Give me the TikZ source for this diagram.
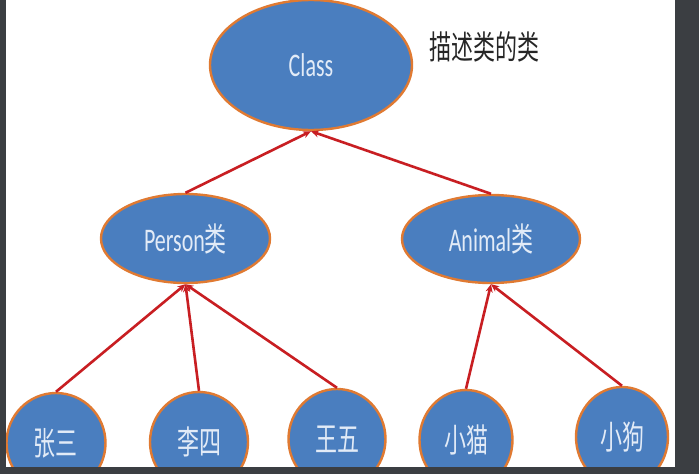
\documentclass[tikz,border=0pt]{standalone}
\usepackage{graphicx}
\usepackage{fontspec}
\setmainfont{Carlito}
\newfontfamily\cjk{Noto Sans CJK SC}
\usetikzlibrary{shapes.geometric,arrows.meta}
\definecolor{darkbg}{HTML}{3B3E42}
\definecolor{nodefill}{HTML}{4A7EBF}
\definecolor{nodeedge}{HTML}{E07A32}
\definecolor{arrowred}{HTML}{C81E22}
\definecolor{nodetext}{HTML}{E2EBF7}
\newcommand\tallt[1]{\scalebox{1}[1.5]{#1}}
\tikzset{
  x=1pt, y=-1pt,
  blob/.style={ellipse, draw=nodeedge, line width=2.4pt, fill=nodefill, inner sep=0pt,
    text=nodetext, font=\fontsize{22}{22}\selectfont},
  link/.style={draw=arrowred, line width=2.6pt, -{Stealth[length=8pt,width=7pt]}},
}
\begin{document}
\begin{tikzpicture}
\fill[darkbg] (0,0) rectangle (699,474);
\fill[white] (6,0) rectangle (675,467);
\useasboundingbox (0,0) rectangle (699,474);

\node[blob, minimum width=202pt, minimum height=130pt] (cls) at (311,65) {\tallt{Class}};
\node[font=\fontsize{22}{22}\selectfont\cjk, text=black!85] (desc) at (484,47) {\tallt{描述类的类}};

\node[blob, minimum width=169pt, minimum height=89pt] (person) at (185.5,238.5) {\tallt{Person{\cjk 类}}};
\node[blob, minimum width=178pt, minimum height=88pt] (animal) at (491,239) {\tallt{Animal{\cjk 类}}};

\node[blob, minimum width=99pt, minimum height=100pt, font=\fontsize{22}{22}\selectfont\cjk] (zs) at (56,443) {\tallt{张三}};
\node[blob, minimum width=98pt, minimum height=100pt, font=\fontsize{22}{22}\selectfont\cjk] (ls) at (199,442) {\tallt{李四}};
\node[blob, minimum width=97pt, minimum height=100pt, font=\fontsize{22}{22}\selectfont\cjk] (ww) at (337,439) {\tallt{王五}};
\node[blob, minimum width=93pt, minimum height=100pt, font=\fontsize{22}{22}\selectfont\cjk] (cat) at (466,440) {\tallt{小猫}};
\node[blob, minimum width=92pt, minimum height=100pt, font=\fontsize{22}{22}\selectfont\cjk] (dog) at (622,437) {\tallt{小狗}};

\draw[link] (person.north) -- (cls.south);
\draw[link] (animal.north) -- (cls.south);
\draw[link] (zs.north) -- (person.south);
\draw[link] (ls.north) -- (person.south);
\draw[link] (ww.north) -- (person.south);
\draw[link] (cat.north) -- (animal.south);
\draw[link] (dog.north) -- (animal.south);

\fill[darkbg] (0,467) rectangle (699,474);
\fill[darkbg] (0,0) rectangle (6,474);
\fill[darkbg] (675,0) rectangle (699,474);
\end{tikzpicture}
\end{document}
